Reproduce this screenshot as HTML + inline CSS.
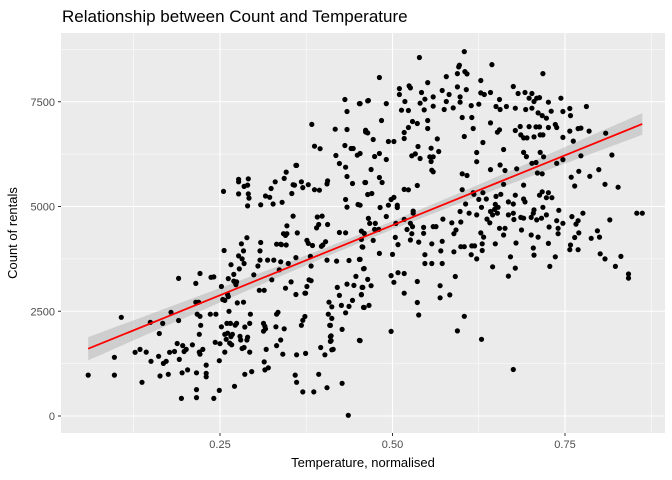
<!DOCTYPE html>
<html><head><meta charset="utf-8"><style>
body{margin:0;background:#fff;}
svg{display:block;font-family:"Liberation Sans",Arial,sans-serif;}
</style></head><body>
<svg id="chart" width="672" height="480" xmlns="http://www.w3.org/2000/svg">
<rect width="672" height="480" fill="#fff"/>
<text x="62" y="22" font-size="17" fill="#000">Relationship between Count and Temperature</text>
<rect x="61" y="33" width="604" height="400" fill="#ebebeb"/>
<g id="grid"></g>
<g id="band"></g>
<g id="pts"></g>
<g id="fit"></g>
<g id="axes"></g>
<text x="363" y="467" font-size="13" text-anchor="middle" fill="#000">Temperature, normalised</text>
<text transform="translate(17,233) rotate(-90)" font-size="13" text-anchor="middle" fill="#000">Count of rentals</text>
</svg>
<script>
const xTicks=[0.25,0.5,0.75];
const xTickLabels=["0.25","0.50","0.75"];
const xMinor=[0.125,0.375,0.625,0.875];
const yTicks=[0,2500,5000,7500];
const yTickLabels=["0","2500","5000","7500"];
const yMinor=[1250,3750,6250,8750];
const fitX=[0.059,0.862];
const fitY=[1606,6970];
const temps=[0.059,0.097,0.097,0.107,0.127,0.134,0.143,0.137,0.150,0.149,0.162,0.163,0.161,0.167,0.168,0.172,0.175,0.177,0.179,0.184,0.190,0.190,0.188,0.191,0.194,0.195,0.196,0.198,0.201,0.203,0.210,0.215,0.216,0.216,0.216,0.215,0.219,0.221,0.217,0.221,0.222,0.220,0.220,0.221,0.225,0.230,0.230,0.230,0.236,0.244,0.237,0.241,0.241,0.243,0.249,0.249,0.250,0.255,0.256,0.252,0.254,0.257,0.252,0.257,0.257,0.259,0.260,0.263,0.261,0.264,0.266,0.267,0.262,0.262,0.261,0.266,0.265,0.268,0.271,0.272,0.274,0.270,0.270,0.274,0.277,0.277,0.277,0.285,0.290,0.291,0.291,0.292,0.290,0.289,0.281,0.277,0.282,0.278,0.273,0.275,0.284,0.284,0.285,0.279,0.280,0.282,0.285,0.286,0.290,0.289,0.286,0.293,0.294,0.293,0.296,0.299,0.305,0.308,0.308,0.309,0.307,0.314,0.309,0.313,0.313,0.315,0.316,0.317,0.315,0.314,0.320,0.322,0.324,0.327,0.330,0.316,0.319,0.325,0.328,0.332,0.336,0.339,0.338,0.338,0.345,0.342,0.346,0.347,0.349,0.354,0.358,0.346,0.343,0.340,0.356,0.361,0.360,0.356,0.362,0.347,0.353,0.360,0.360,0.345,0.343,0.338,0.332,0.331,0.334,0.332,0.341,0.359,0.361,0.361,0.368,0.370,0.374,0.370,0.374,0.373,0.376,0.379,0.382,0.381,0.382,0.373,0.376,0.378,0.378,0.370,0.368,0.387,0.390,0.391,0.393,0.394,0.397,0.399,0.398,0.395,0.383,0.387,0.384,0.386,0.393,0.396,0.402,0.403,0.405,0.406,0.405,0.406,0.407,0.408,0.409,0.410,0.410,0.412,0.405,0.417,0.418,0.423,0.431,0.434,0.434,0.431,0.440,0.443,0.449,0.452,0.461,0.462,0.464,0.434,0.432,0.442,0.432,0.434,0.450,0.460,0.432,0.423,0.419,0.437,0.452,0.458,0.457,0.455,0.447,0.444,0.434,0.457,0.455,0.458,0.442,0.437,0.432,0.426,0.423,0.420,0.412,0.412,0.411,0.411,0.414,0.410,0.427,0.452,0.427,0.436,
0.453,0.465,0.481,0.491,0.484,0.461,0.464,0.472,0.453,0.474,0.481,0.491,0.494,0.502,0.469,0.461,0.481,0.485,0.464,0.470,0.453,0.482,0.491,0.494,0.498,0.502,0.507,0.507,0.465,0.467,0.475,0.474,0.480,0.459,0.455,0.472,0.456,0.453,0.481,0.500,0.504,0.505,0.517,0.517,0.523,0.513,0.510,0.510,0.518,0.523,0.524,0.526,0.517,0.517,0.523,0.529,0.533,0.528,0.537,0.536,0.540,0.536,0.539,0.542,0.547,0.540,0.546,0.551,0.551,0.551,0.556,0.559,0.554,0.556,0.557,0.559,0.565,0.567,0.559,0.559,0.572,0.578,0.578,0.575,0.582,0.588,0.594,0.596,0.597,0.594,0.598,0.598,0.605,0.604,0.608,0.607,0.601,0.604,0.615,0.614,0.617,0.622,0.625,0.628,0.628,0.633,0.642,0.644,0.642,0.631,0.652,0.655,0.650,0.655,0.656,0.665,0.675,0.682,0.692,0.678,0.693,0.698,0.702,0.705,0.702,0.709,0.713,0.711,0.717,0.718,0.726,0.723,0.730,0.736,0.744,0.747,0.757,0.758,0.781,0.678,0.685,0.686,0.690,0.695,0.698,0.705,0.708,0.713,0.714,0.718,0.714,0.719,0.726,0.738,0.747,0.757,0.762,0.769,0.773,0.785,0.809,0.773,0.818,0.690,0.694,0.661,0.622,0.656,0.663,0.680,0.702,0.708,0.710,0.717,0.738,0.747,0.799,0.808,0.827,0.786,0.770,0.759,0.764,0.642,0.661,0.690,0.601,0.608,0.606,0.601,0.617,0.618,0.625,0.631,0.636,0.650,0.657,0.678,0.690,0.692,0.713,0.717,0.726,0.723,0.731,0.649,0.653,0.648,0.652,0.642,0.645,0.668,0.675,0.622,0.629,0.611,0.598,0.586,0.592,0.589,0.599,0.573,0.559,0.563,0.545,0.545,0.530,0.530,0.529,0.528,0.526,0.538,0.557,0.572,0.570,0.589,0.599,0.604,0.615,0.619,0.614,0.622,0.630,0.630,0.632,0.628,0.637,0.641,0.649,0.655,0.663,0.661,0.668,0.675,0.676,0.679,0.686,0.687,0.690,0.701,0.704,0.705,0.709,0.716,0.718,0.723,0.727,0.726,0.701,0.704,0.705,0.711,0.740,0.741,0.740,0.738,0.747,0.760,0.766,0.769,0.770,0.764,0.758,0.769,0.776,0.788,0.797,0.800,0.815,0.801,0.808,0.823,0.831,0.842,0.842,0.854,0.728,0.736,0.757,0.678,0.668,0.671,0.645,0.675,0.629,0.604,0.594,0.591,0.583,0.569,0.569,0.572,0.557,0.547,0.547,0.536,0.536,0.538,0.517,0.517,0.508,0.502,0.498,0.498,0.469,0.464,0.459,0.456,0.455,0.459,0.466,0.453,0.508,0.521,0.526,0.862];
const counts=[975,1400,975,2355,1520,1590,1525,805,1305,2235,1970,955,1425,2210,1255,1305,995,1520,2475,1540,3285,2280,1730,1350,420,1030,1680,1540,1590,1100,1700,3165,1030,630,440,2715,2715,3400,2430,2380,2165,1950,1525,1475,1590,1215,935,1020,2430,2430,3310,3320,420,1760,610,1320,1725,5360,3950,3090,2780,2760,2130,1950,1525,1830,2210,2500,1975,1740,1895,1700,3280,2850,2900,3610,2210,1950,710,2170,2210,3220,3380,3200,5650,5590,5300,5480,5510,5660,5300,5200,5015,4255,4110,3820,3750,3510,3135,2700,2715,3940,3640,1900,1815,1610,1635,2125,1880,1815,995,2210,2430,1525,1060,3370,3580,3720,3940,4140,3000,3000,5040,2210,2025,2140,2080,1590,1100,1290,1150,5220,5430,5060,5590,5250,3720,3250,3720,4100,3490,4090,3680,4100,3050,4350,4080,4540,3640,5310,5510,5820,5670,5100,5520,5980,5980,4770,4370,4350,3200,2900,3780,4310,2080,1815,2430,2130,2475,1680,1475,975,805,1460,2165,2285,1495,575,2930,2930,3090,3250,3580,3810,3230,2375,4190,4120,5520,5450,5590,5400,4490,4750,4570,5390,4050,4080,4770,6380,6960,6440,4070,575,995,1635,1460,4160,3720,4570,5540,5610,2430,2715,2165,1780,1895,1580,675,6845,6218,6026,7553,7267,6837,6456,6384,6384,6225,7457,6821,6773,7521,5716,5939,5549,5168,4985,5048,5573,4372,4380,3697,3712,3737,3513,4031,4412,3331,3117,3148,3069,2893,2592,2759,2616,2464,2640,2879,3069,2607,2330,1915,1796,1591,2163,2068,1805,780,17,
7457,7529,8078,7457,7052,6781,6757,6599,6265,6193,6265,6122,6551,6551,5883,5573,5692,5573,5287,5311,5032,4977,4762,5032,5168,5216,5032,4977,4715,4596,4596,4453,4453,4357,4214,4190,4038,3737,3880,3856,4262,4596,4691,5407,5399,7298,7815,7672,7505,7291,7878,7831,6766,6623,6885,7028,6256,6210,6432,6981,6146,5502,8555,7720,7560,7465,7306,7958,7052,6862,6392,6185,6185,6074,5867,5828,6614,6312,7394,7616,7768,8101,7505,7314,7672,7354,8173,8332,8372,7855,7616,7489,8220,8697,8165,7791,7124,6670,7124,7409,6862,6289,7441,8006,7712,7672,7720,8387,6996,6527,6773,6830,7386,7553,7314,7386,7863,7696,7720,7346,7314,7584,7696,7505,7346,7584,7600,7234,7170,8173,7489,7107,7275,6957,7584,7267,7338,7170,7386,6813,6909,6709,6638,6638,6908,6662,6900,6900,6710,6710,6290,6185,6885,6885,6650,6800,6560,6860,6870,6800,6750,6210,6230,6290,6190,6360,6070,5990,5860,5900,6030,6050,5800,5780,6030,6120,5880,5530,5460,5720,5840,5700,5490,5880,5530,5510,5780,5740,5060,5400,5330,5290,5170,5330,5180,5240,5290,5270,5180,5110,5270,5350,5330,5210,5210,5050,4980,4930,4840,4880,4800,5110,5060,4800,4980,4840,4880,4610,4440,4350,4630,4700,4520,4520,4500,4360,4890,4840,4520,4350,4200,4150,4110,4170,3940,3920,4040,4040,4060,4060,3850,3750,3950,4110,4270,4370,4700,4610,4110,4480,4480,4320,4800,4840,4690,4130,4740,4440,4720,4740,4840,4920,4680,4720,4980,4800,4510,4120,4320,4010,3840,4270,4480,4910,4350,4660,4600,4760,4580,4660,4370,4260,4080,3970,4840,4240,4420,4270,4680,3870,3750,3570,3810,3390,3290,4840,3570,3800,3970,3530,3340,3800,3560,1110,1830,2380,2030,3330,2890,3110,2820,3640,3640,3640,3850,3210,2710,2410,2930,3400,3420,3190,3350,2020,3110,3260,3520,3070,2900,2590,2640,1800,4090,4450,4600,4840];

const X0=47.5,XS=690;
function sx(v){return X0+v*XS;}
function sy(v){return 416-v*104.75/2500;}
const NS="http://www.w3.org/2000/svg";
function mk(tag,attrs,parent){const e=document.createElementNS(NS,tag);for(const k in attrs)e.setAttribute(k,attrs[k]);parent.appendChild(e);return e;}
const grid=document.getElementById('grid');
xMinor.forEach(v=>{const l=mk('line',{x1:sx(v),x2:sx(v),y1:33,y2:433,stroke:'#fff','stroke-width':0.55},grid);

});
yMinor.forEach(v=>{const l=mk('line',{x1:61,x2:665,y1:sy(v),y2:sy(v),stroke:'#fff','stroke-width':0.55},grid);

});
xTicks.forEach(v=>{const l=mk('line',{x1:sx(v),x2:sx(v),y1:33,y2:433,stroke:'#fff','stroke-width':1.1},grid);

});
yTicks.forEach(v=>{const l=mk('line',{x1:61,x2:665,y1:sy(v),y2:sy(v),stroke:'#fff','stroke-width':1.1},grid);

});
const slope=(fitY[1]-fitY[0])/(fitX[1]-fitX[0]);
function fy(x){return fitY[0]+slope*(x-fitX[0]);}
function hw(x){const d=x-0.475;return Math.sqrt(100*100+620*620*d*d);}
let up=[],dn=[];
for(let i=0;i<=40;i++){const x=fitX[0]+(fitX[1]-fitX[0])*i/40;up.push(sx(x).toFixed(1)+','+sy(fy(x)+hw(x)).toFixed(1));dn.unshift(sx(x).toFixed(1)+','+sy(fy(x)-hw(x)).toFixed(1));}
const band=mk('polygon',{points:up.concat(dn).join(' '),fill:'#999',opacity:0.35},document.getElementById('band'));


const pts=document.getElementById('pts');
for(let i=0;i<temps.length&&i<counts.length;i++){
const c=mk('circle',{cx:sx(temps[i]).toFixed(1),cy:sy(counts[i]).toFixed(1),r:2.6,fill:'#000'},pts);


}
const ln=mk('line',{x1:sx(fitX[0]),y1:sy(fitY[0]),x2:sx(fitX[1]),y2:sy(fitY[1]),stroke:'#ff0000','stroke-width':1.8},document.getElementById('fit'));


const axes=document.getElementById('axes');
xTicks.forEach((v,i)=>{
const t=mk('line',{x1:sx(v),x2:sx(v),y1:433,y2:436,stroke:'#333','stroke-width':1},axes);


const tx=mk('text',{x:sx(v),y:448,'font-size':11,'text-anchor':'middle',fill:'#4d4d4d'},axes);
tx.textContent=xTickLabels[i];


});
yTicks.forEach((v,i)=>{
const t=mk('line',{x1:58,x2:61,y1:sy(v),y2:sy(v),stroke:'#333','stroke-width':1},axes);


const tx=mk('text',{x:55,y:sy(v)+4,'font-size':11,'text-anchor':'end',fill:'#4d4d4d'},axes);
tx.textContent=yTickLabels[i];


});
</script>
</body></html>
